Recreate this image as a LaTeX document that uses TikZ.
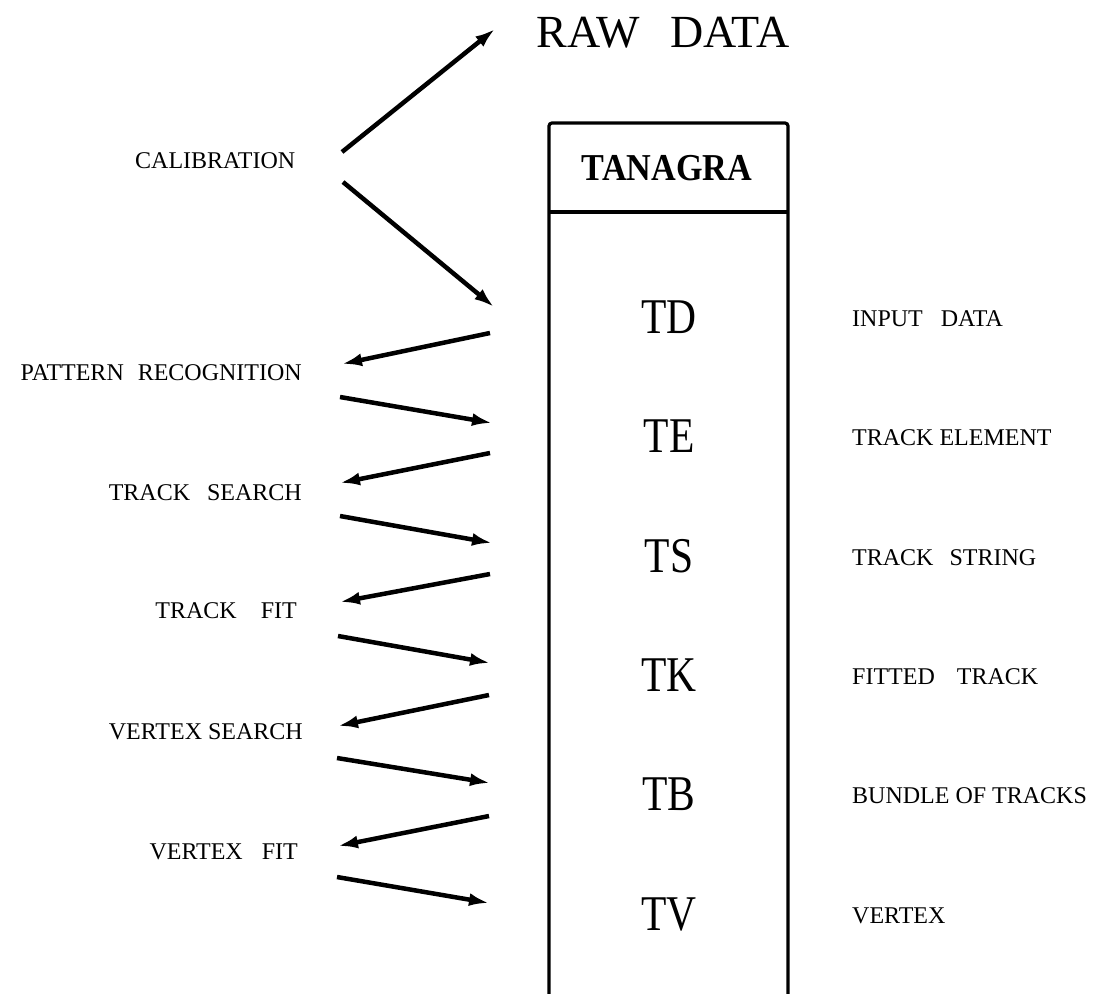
\documentclass[tikz,border=0pt]{standalone}
\usepackage{fontspec}
\usepackage{graphicx}
\setmainfont{Liberation Serif}
\usetikzlibrary{arrows.meta}
\begin{document}
\begin{tikzpicture}[x=1pt,y=-1pt,
  lbl/.style={inner sep=0pt, font=\fontsize{24}{24}\selectfont},
  tlbl/.style={inner sep=0pt, font=\fontsize{50}{50}\selectfont},
  arr/.style={line width=4.5pt, -{Latex[length=20pt,width=13pt]}},
  frame/.style={line width=3.2pt, rounded corners=3pt}]
\useasboundingbox (0,0) rectangle (1099,993);
% title
\node[inner sep=0pt, font=\fontsize{46}{46}\selectfont] (raw) at (663,33) {RAW\hspace{30pt}DATA};
\node[lbl, anchor=west] (calib) at (135,161) {CALIBRATION};
% box
\draw[frame] (549,1000) -- (549,123) -- (788,123) -- (788,1000);
\draw[line width=3.2pt] (549,212) -- (788,212);
\node[inner sep=0pt, font=\fontsize{38}{38}\selectfont\bfseries] (tanagra) at (667,168) {\scalebox{0.9}[1]{TANAGRA}};
% T labels
\node[tlbl] (TD) at (669,317) {\scalebox{0.83}[1]{TD}};
\node[tlbl] (TE) at (669,436) {\scalebox{0.83}[1]{TE}};
\node[tlbl] (TS) at (669,556) {\scalebox{0.83}[1]{TS}};
\node[tlbl] (TK) at (669,675) {\scalebox{0.83}[1]{TK}};
\node[tlbl] (TB) at (669,794) {\scalebox{0.83}[1]{TB}};
\node[tlbl] (TV) at (669,914) {\scalebox{0.83}[1]{TV}};
% right labels
\node[lbl, anchor=west] (r1) at (852,319) {INPUT\hspace{18pt}DATA};
\node[lbl, anchor=west] (r2) at (852,438) {TRACK ELEMENT};
\node[lbl, anchor=west] (r3) at (852,558) {TRACK\hspace{16pt}STRING};
\node[lbl, anchor=west] (r4) at (852,677) {FITTED\hspace{22pt}TRACK};
\node[lbl, anchor=west] (r5) at (852,796) {BUNDLE OF TRACKS};
\node[lbl, anchor=west] (r6) at (852,916) {VERTEX};
% left labels
\node[lbl, anchor=east] (l1) at (302,373) {PATTERN\hspace{14pt}RECOGNITION};
\node[lbl, anchor=east] (l2) at (302,493) {TRACK\hspace{17pt}SEARCH};
\node[lbl, anchor=east] (l3) at (297,611) {TRACK\hspace{24pt}FIT};
\node[lbl, anchor=east] (l4) at (303,732) {VERTEX SEARCH};
\node[lbl, anchor=east] (l5) at (298,852) {VERTEX\hspace{19pt}FIT};
% arrow end points
\coordinate (c0) at (342,152); \coordinate (c1) at (495,29);
\coordinate (c2) at (343,182); \coordinate (c3) at (494,307);
\coordinate (a1s) at (490,333); \coordinate (a1e) at (342,364);
\coordinate (b1s) at (340,397); \coordinate (b1e) at (492,423);
\coordinate (a2s) at (490,453); \coordinate (a2e) at (340,483);
\coordinate (b2s) at (340,516); \coordinate (b2e) at (492,543);
\coordinate (a3s) at (490,574); \coordinate (a3e) at (340,602);
\coordinate (b3s) at (338,636); \coordinate (b3e) at (490,663);
\coordinate (a4s) at (489,695); \coordinate (a4e) at (338,726);
\coordinate (b4s) at (337,758); \coordinate (b4e) at (490,783);
\coordinate (a5s) at (489,816); \coordinate (a5e) at (338,846);
\coordinate (b5s) at (337,877); \coordinate (b5e) at (489,903);
\draw[arr] (c0) -- (c1);
\draw[arr] (c2) -- (c3);
\foreach \i in {1,...,5} {
  \draw[arr] (a\i s) -- (a\i e);
  \draw[arr] (b\i s) -- (b\i e);
}
\end{tikzpicture}
\end{document}
